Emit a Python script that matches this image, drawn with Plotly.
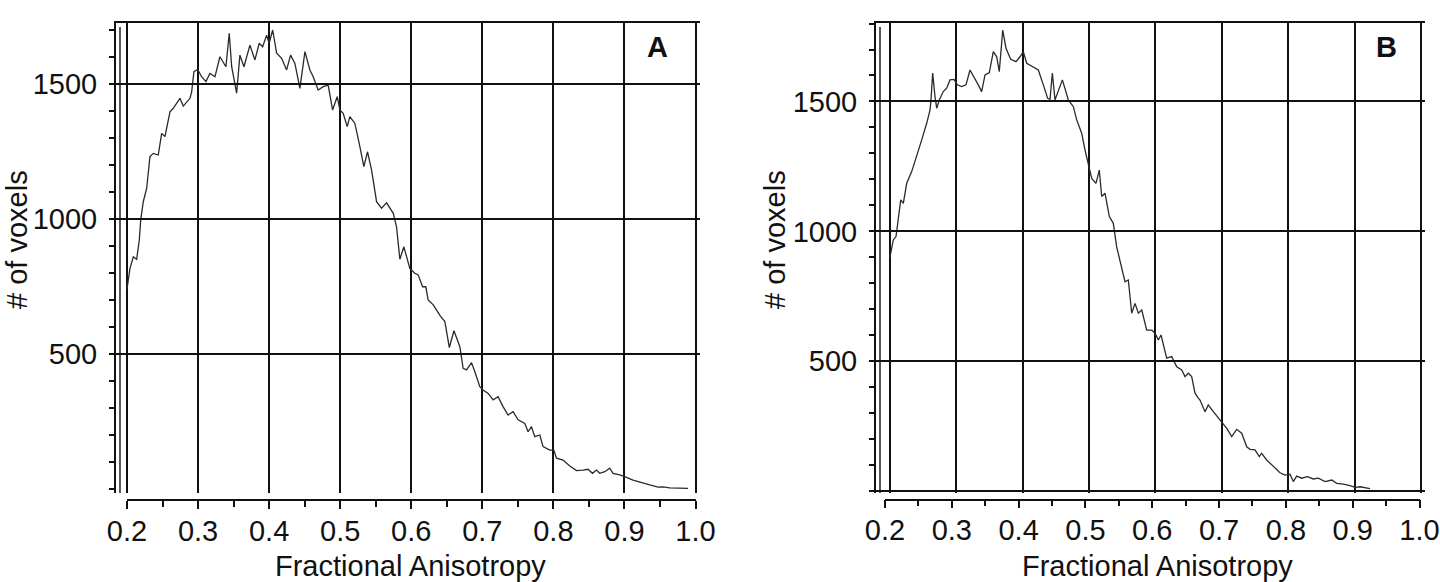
import plotly.graph_objects as go

# ---------------- data ----------------
fa_a = [0.2000, 0.2042, 0.2089, 0.2136, 0.2173, 0.2193, 0.2229, 0.2277, 0.2323, 0.2370,
        0.2440, 0.2488, 0.2534, 0.2605, 0.2651, 0.2745, 0.2792, 0.2886, 0.2910, 0.2942,
        0.2994, 0.3050, 0.3111, 0.3167, 0.3238, 0.3308, 0.3392, 0.3439, 0.3473, 0.3543,
        0.3589, 0.3646, 0.3730, 0.3800, 0.3861, 0.3909, 0.3965, 0.4000, 0.4050, 0.4106,
        0.4176, 0.4246, 0.4302, 0.4363, 0.4433, 0.4504, 0.4574, 0.4620, 0.4690, 0.4761,
        0.4831, 0.4893, 0.4958, 0.4996, 0.5042, 0.5099, 0.5136, 0.5207, 0.5277, 0.5333,
        0.5385, 0.5442, 0.5512, 0.5582, 0.5653, 0.5747, 0.5793, 0.5840, 0.5896, 0.5980,
        0.6050, 0.6097, 0.6160, 0.6205, 0.6238, 0.6310, 0.6408, 0.6473, 0.6536, 0.6601,
        0.6684, 0.6730, 0.6778, 0.6848, 0.6895, 0.6965, 0.7011, 0.7082, 0.7152, 0.7222,
        0.7292, 0.7363, 0.7433, 0.7504, 0.7598, 0.7644, 0.7691, 0.7738, 0.7809, 0.7855,
        0.7949, 0.8006, 0.8044, 0.8137, 0.8231, 0.8325, 0.8419, 0.8488, 0.8550, 0.8606,
        0.8653, 0.8723, 0.8793, 0.8840, 0.8934, 0.9004, 0.9121, 0.9239, 0.9356, 0.9473,
        0.9543, 0.9637, 0.9778, 0.9895]
voxels_a = [740, 817, 860, 851, 922, 996, 1064, 1114, 1231, 1243,
            1237, 1317, 1305, 1397, 1410, 1447, 1418, 1447, 1471, 1546,
            1554, 1527, 1509, 1539, 1527, 1601, 1564, 1688, 1564, 1466,
            1607, 1564, 1644, 1589, 1651, 1638, 1681, 1650, 1700, 1614,
            1595, 1552, 1607, 1576, 1484, 1620, 1552, 1527, 1478, 1490,
            1496, 1404, 1453, 1404, 1391, 1342, 1379, 1354, 1268, 1194,
            1249, 1181, 1064, 1040, 1060, 1021, 971, 851, 897, 817,
            799, 793, 749, 749, 700, 682, 641, 620, 524, 586,
            527, 447, 441, 468, 434, 379, 367, 354, 330, 342,
            305, 274, 286, 256, 243, 212, 231, 194, 200, 157,
            144, 144, 114, 107, 85, 68, 70, 73, 58, 70,
            58, 64, 77, 58, 52, 46, 33, 23, 15, 7,
            8, 4, 2, 2]

fa_b = [0.2000, 0.2030, 0.2054, 0.2095, 0.2130, 0.2166, 0.2205, 0.2256, 0.2331, 0.2407,
        0.2482, 0.2557, 0.2607, 0.2622, 0.2647, 0.2682, 0.2708, 0.2747, 0.2807, 0.2858,
        0.2908, 0.2968, 0.3018, 0.3084, 0.3149, 0.3209, 0.3269, 0.3334, 0.3385, 0.3435,
        0.3500, 0.3560, 0.3611, 0.3650, 0.3702, 0.3751, 0.3822, 0.3902, 0.3962, 0.4012,
        0.4063, 0.4162, 0.4238, 0.4313, 0.4379, 0.4414, 0.4449, 0.4489, 0.4539, 0.4600,
        0.4690, 0.4765, 0.4816, 0.4891, 0.4941, 0.4991, 0.5042, 0.5106, 0.5156, 0.5192,
        0.5242, 0.5307, 0.5367, 0.5417, 0.5478, 0.5543, 0.5593, 0.5644, 0.5694, 0.5744,
        0.5795, 0.5870, 0.5945, 0.5995, 0.6045, 0.6085, 0.6171, 0.6246, 0.6322, 0.6397,
        0.6447, 0.6496, 0.6547, 0.6597, 0.6647, 0.6672, 0.6748, 0.6797, 0.6873, 0.6999,
        0.7075, 0.7150, 0.7225, 0.7300, 0.7376, 0.7425, 0.7500, 0.7565, 0.7600, 0.7677,
        0.7776, 0.7877, 0.7952, 0.8028, 0.8077, 0.8128, 0.8204, 0.8288, 0.8378, 0.8454,
        0.8555, 0.8656, 0.8731, 0.8830, 0.8931, 0.9006, 0.9082, 0.9183, 0.9232]
voxels_b = [896, 941, 967, 980, 1044, 1121, 1108, 1185, 1230, 1288,
            1352, 1416, 1467, 1506, 1609, 1518, 1474, 1506, 1538, 1551,
            1583, 1585, 1564, 1557, 1564, 1621, 1595, 1564, 1538, 1602,
            1611, 1692, 1672, 1615, 1775, 1705, 1662, 1653, 1672, 1692,
            1647, 1634, 1621, 1564, 1512, 1508, 1609, 1506, 1544, 1583,
            1506, 1480, 1429, 1378, 1313, 1256, 1204, 1185, 1236, 1134,
            1147, 1057, 1031, 941, 877, 806, 813, 685, 723, 685,
            697, 620, 620, 608, 582, 601, 512, 518, 479, 467,
            441, 454, 441, 377, 358, 351, 306, 332, 306, 268,
            242, 210, 238, 223, 171, 161, 159, 133, 146, 120,
            94, 71, 62, 65, 37, 58, 50, 56, 47, 50,
            37, 43, 30, 27, 21, 15, 17, 13, 10]

x_ticks = [0.2, 0.3, 0.4, 0.5, 0.6, 0.7, 0.8, 0.9, 1.0]
x_labels = ["0.2", "0.3", "0.4", "0.5", "0.6", "0.7", "0.8", "0.9", "1.0"]
y_ticks = [500, 1000, 1500]
y_labels = ["500", "1000", "1500"]
panel_labels = ["A", "B"]
x_title = "Fractional Anisotropy"
y_title = "# of voxels"

# ---------------- layout helpers ----------------
W, H = 1440, 582
FONT = "Liberation Sans, Arial, Helvetica, sans-serif"
INK = "#111111"
FS = 29


def px_x(p):
    return p / W


def px_y(p):
    return 1 - p / H


fig = go.Figure()

# data traces
fig.add_trace(go.Scatter(x=fa_a, y=voxels_a, mode="lines", xaxis="x", yaxis="y",
                         line=dict(color="#2a2a2a", width=1.3), showlegend=False,
                         hoverinfo="skip"))
fig.add_trace(go.Scatter(x=fa_b, y=voxels_b, mode="lines", xaxis="x2", yaxis="y2",
                         line=dict(color="#2a2a2a", width=1.3), showlegend=False,
                         hoverinfo="skip"))
# placeholders so the separate tick axes are drawn
fig.add_trace(go.Scatter(x=[None], y=[None], xaxis="x3", yaxis="y", showlegend=False,
                         hoverinfo="skip"))
fig.add_trace(go.Scatter(x=[None], y=[None], xaxis="x4", yaxis="y2", showlegend=False,
                         hoverinfo="skip"))

ydom = [px_y(493), px_y(23)]

grid_x = dict(tickmode="array", tickvals=x_ticks, showticklabels=False, ticks="",
              showgrid=True, gridcolor=INK, gridwidth=2, side="top",
              showline=True, linecolor=INK, linewidth=2, zeroline=False,
              automargin=False)

tick_x = dict(tickmode="array", tickvals=x_ticks, ticktext=x_labels, range=[0.2, 1.0],
              showgrid=False, zeroline=False, showline=True, linecolor=INK, linewidth=1.6,
              ticks="outside", ticklen=8, tickwidth=1.6, tickcolor=INK,
              minor=dict(dtick=0.05, tick0=0.2, ticks="outside", ticklen=6, tickwidth=1.6,
                         tickcolor=INK, showgrid=False),
              tickfont=dict(family=FONT, size=FS, color=INK), anchor="free",
              ticklabelstandoff=-3, automargin=False)

grid_y = dict(tickmode="array", showgrid=True, gridcolor=INK, gridwidth=1.6,
              zeroline=False, showline=True, linecolor=INK, linewidth=2,
              ticks="outside", ticklen=5, tickwidth=1.6, tickcolor=INK,
              minor=dict(dtick=100, tick0=0, ticks="outside", ticklen=5, tickwidth=1.6,
                         tickcolor=INK, showgrid=False),
              tickfont=dict(family=FONT, size=FS, color=INK), domain=ydom,
              ticklabelstandoff=6, automargin=False)

fig.update_layout(
    template="none",
    width=W, height=H,
    margin=dict(l=0, r=0, t=0, b=0, pad=0),
    paper_bgcolor="white", plot_bgcolor="rgba(0,0,0,0)",
    font=dict(family=FONT, color=INK),
    showlegend=False,
    xaxis=dict(grid_x, domain=[px_x(116), px_x(700)], range=[0.18453, 1.00633], anchor="y"),
    xaxis2=dict(grid_x, domain=[px_x(876), px_x(1425)], range=[0.17937, 1.00602], anchor="y2"),
    xaxis3=dict(tick_x, domain=[px_x(127), px_x(695.5)], position=px_y(500)),
    xaxis4=dict(tick_x, domain=[px_x(885), px_x(1419.5)], position=px_y(499.5)),
    yaxis=dict(grid_y, tickvals=y_ticks, ticktext=y_labels, range=[-14.8, 1725.9],
               anchor="x"),
    yaxis2=dict(grid_y, tickvals=[0] + y_ticks, ticktext=[""] + y_labels,
                range=[-7, 1802], anchor="x2"),
)

# second thin rule next to each y axis line
for xr, xv in (("x", 0.19015), ("x2", 0.18539)):
    fig.add_shape(type="line", xref=xr, yref="paper", x0=xv, x1=xv,
                  y0=px_y(493), y1=px_y(27), line=dict(color=INK, width=1.4))

# titles and panel letters
for cx in (410, 1157):
    fig.add_annotation(text=x_title, x=px_x(cx), y=px_y(566), xref="paper", yref="paper",
                       showarrow=False, xanchor="center", yanchor="middle",
                       font=dict(family=FONT, size=FS, color=INK))
for cx in (17, 775):
    fig.add_annotation(text=y_title, x=px_x(cx), y=px_y(240), xref="paper", yref="paper",
                       showarrow=False, textangle=-90, xanchor="center", yanchor="middle",
                       font=dict(family=FONT, size=FS, color=INK))
for lab, cx in zip(panel_labels, (657, 1386)):
    fig.add_annotation(text="<b>" + lab + "</b>", x=px_x(cx), y=px_y(47), xref="paper",
                       yref="paper", showarrow=False, xanchor="center", yanchor="middle",
                       font=dict(family=FONT, size=FS, color=INK))

fig.write_html("out.html")
